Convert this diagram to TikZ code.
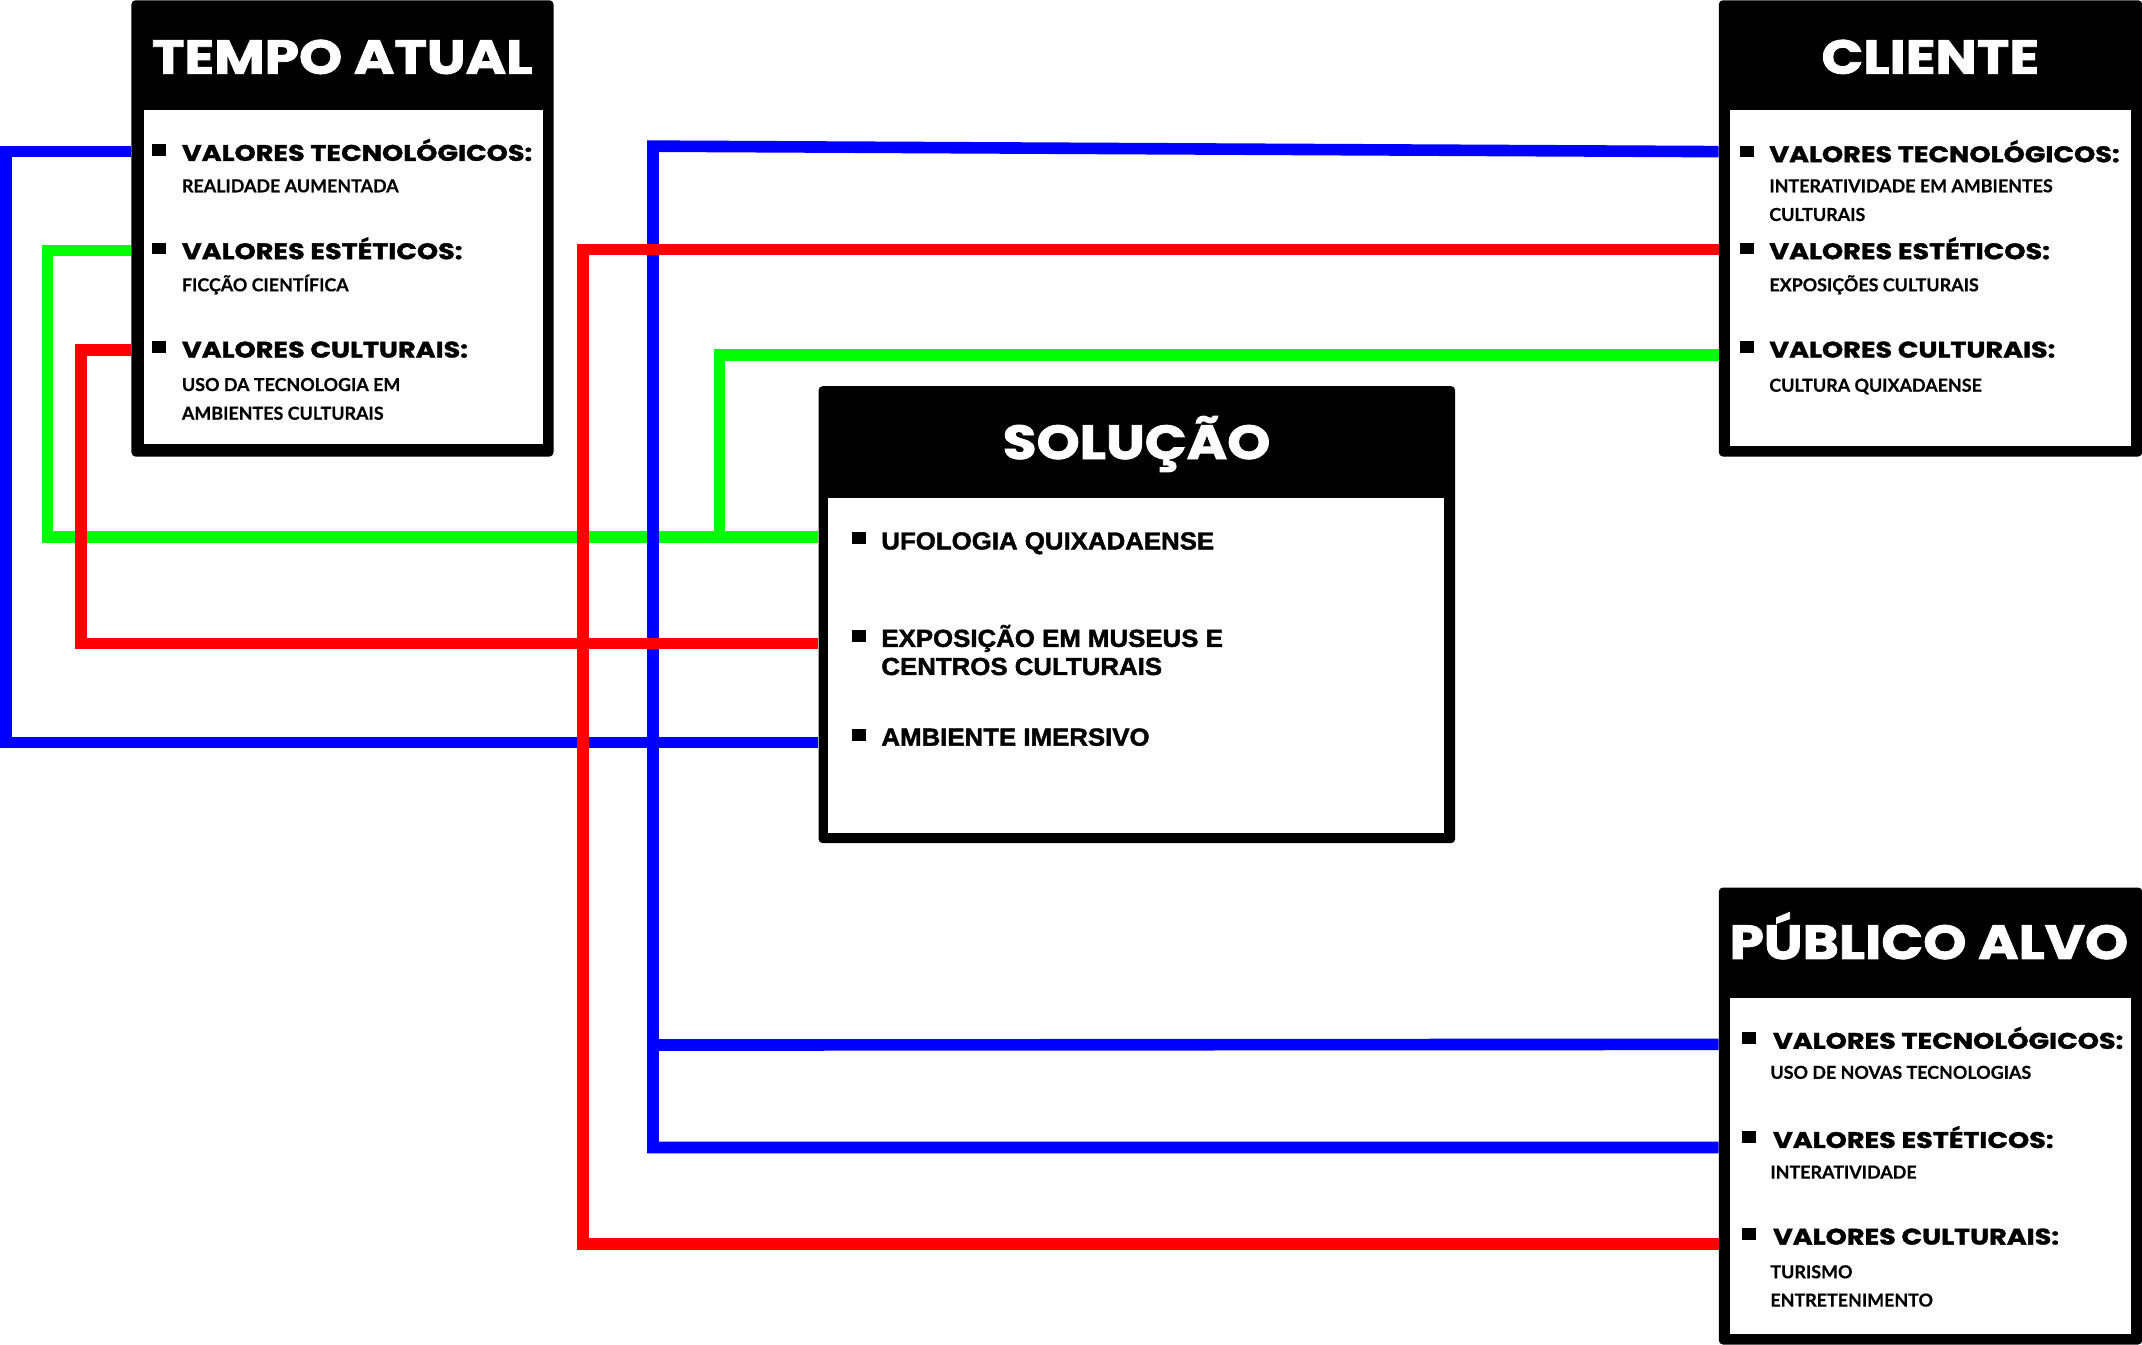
\documentclass[tikz,border=0pt]{standalone}
\usepackage{fontspec}
\setmainfont{Lato}
\newfontfamily\ttlfont{Poppins}[FakeStretch=1.15,FakeBold=1.8]
\newfontfamily\hdfont{Poppins}[FakeStretch=1.2,FakeBold=1.6]
\newfontfamily\subfont{Lato}[FakeBold=0.5]
\newfontfamily\solfont{Liberation Sans}[FakeStretch=1.05,FakeBold=1.8]
\usetikzlibrary{calc}
\definecolor{cblue}{RGB}{0,0,255}
\definecolor{cgreen}{RGB}{0,255,0}
\definecolor{cred}{RGB}{255,0,0}
\begin{document}
\begin{tikzpicture}[x=1pt,y=1pt,
  boxouter/.style={fill=black, rounded corners=3pt, inner sep=0pt, anchor=north west},
  boxinner/.style={fill=white, inner sep=0pt, anchor=north west},
  ttl/.style={text=white, font=\ttlfont\bfseries\fontsize{35}{35}\selectfont, inner sep=0pt, text height=24pt, text depth=0pt},
  hd/.style={anchor=west, font=\hdfont\bfseries\fontsize{16.5}{16.5}\selectfont, inner sep=0pt, text height=11.5pt, text depth=0pt},
  sub/.style={anchor=west, font=\subfont\bfseries\fontsize{13.1}{13.1}\selectfont, inner sep=0pt, text height=9.5pt, text depth=0pt},
  sol/.style={anchor=west, font=\solfont\bfseries\fontsize{18}{18}\selectfont, inner sep=0pt, text height=13pt, text depth=0pt},
  bul/.style={fill=black, inner sep=0pt, minimum width=10pt, minimum height=8.5pt},
  wire/.style={line width=8.5pt, line join=miter, line cap=butt}
]
\fill[white] (0,0) rectangle (1568,-984);
\useasboundingbox (0,0) rectangle (1568,-984);

% ---------- TEMPO ATUAL ----------
\node[boxouter, minimum width=309pt, minimum height=334pt] (tempo) at (96,0) {};
\node[boxinner, minimum width=292pt, minimum height=245pt] (tempoin) at (105,-80) {};
\node[ttl] (tempot) at (250.5,-42) {TEMPO ATUAL};
\node[bul] (tb1) at (116.5,-110) {};
\node[hd] (th1) at (133,-112) {VALORES TECNOLÓGICOS:};
\node[sub] (ts1) at (133,-136) {REALIDADE AUMENTADA};
\node[bul] (tb2) at (116.5,-182) {};
\node[hd] (th2) at (133,-184) {VALORES ESTÉTICOS:};
\node[sub] (ts2) at (133,-208.5) {FICÇÃO CIENTÍFICA};
\node[bul] (tb3) at (116.5,-254) {};
\node[hd] (th3) at (133,-256) {VALORES CULTURAIS:};
\node[sub] (ts3a) at (133,-281.5) {USO DA TECNOLOGIA EM};
\node[sub] (ts3b) at (133,-302.5) {AMBIENTES CULTURAIS};

% ---------- CLIENTE ----------
\node[boxouter, minimum width=310pt, minimum height=334pt] (cli) at (1258,0) {};
\node[boxinner, minimum width=293pt, minimum height=246pt] (cliin) at (1266.5,-80) {};
\node[ttl] (clit) at (1413,-42) {CLIENTE};
\node[bul] (cb1) at (1279,-111) {};
\node[hd] (ch1) at (1295,-113) {VALORES TECNOLÓGICOS:};
\node[sub] (cs1a) at (1295,-136) {INTERATIVIDADE EM AMBIENTES};
\node[sub] (cs1b) at (1295,-157) {CULTURAIS};
\node[bul] (cb2) at (1279,-182) {};
\node[hd] (ch2) at (1295,-184) {VALORES ESTÉTICOS:};
\node[sub] (cs2) at (1295,-208.5) {EXPOSIÇÕES CULTURAIS};
\node[bul] (cb3) at (1279,-254) {};
\node[hd] (ch3) at (1295,-256) {VALORES CULTURAIS:};
\node[sub] (cs3) at (1295,-282) {CULTURA QUIXADAENSE};

% ---------- SOLUÇÃO ----------
\node[boxouter, minimum width=466pt, minimum height=334.5pt] (sol) at (599,-282.5) {};
\node[boxinner, minimum width=451pt, minimum height=245.5pt] (solin) at (606,-364) {};
\node[ttl] (solt) at (832,-324) {SOLUÇÃO};
\node[bul] (sb1) at (629,-394) {};
\node[sol] (si1) at (645,-395.7) {UFOLOGIA QUIXADAENSE};
\node[bul] (sb2) at (629,-465.5) {};
\node[sol] (si2a) at (645,-467) {EXPOSIÇÃO EM MUSEUS E};
\node[sol] (si2b) at (645,-487.6) {CENTROS CULTURAIS};
\node[bul] (sb3) at (629,-538) {};
\node[sol] (si3) at (645,-539.3) {AMBIENTE IMERSIVO};

% ---------- PÚBLICO ALVO ----------
\node[boxouter, minimum width=310pt, minimum height=334.5pt] (pub) at (1258,-649.5) {};
\node[boxinner, minimum width=293pt, minimum height=246pt] (pubin) at (1266.5,-730) {};
\node[ttl] (pubt) at (1412,-690) {PÚBLICO ALVO};
\node[bul] (pb1) at (1280.5,-760) {};
\node[hd] (ph1) at (1297.7,-762) {VALORES TECNOLÓGICOS:};
\node[sub] (ps1) at (1295.8,-785) {USO DE NOVAS TECNOLOGIAS};
\node[bul] (pb2) at (1280.5,-832.5) {};
\node[hd] (ph2) at (1297.7,-834.6) {VALORES ESTÉTICOS:};
\node[sub] (ps2) at (1295.8,-858) {INTERATIVIDADE};
\node[bul] (pb3) at (1280.5,-903.5) {};
\node[hd] (ph3) at (1297.7,-905.3) {VALORES CULTURAIS:};
\node[sub] (ps3a) at (1295.8,-931) {TURISMO};
\node[sub] (ps3b) at (1295.8,-951.7) {ENTRETENIMENTO};

% ---------- connection points ----------
\coordinate (tB) at ($(tempo.north west)+(0,-111)$);
\coordinate (tG) at ($(tempo.north west)+(0,-183.4)$);
\coordinate (tR) at ($(tempo.north west)+(0,-256)$);
\coordinate (cB) at ($(cli.north west)+(0,-111)$);
\coordinate (cR) at ($(cli.north west)+(0,-182.7)$);
\coordinate (cG) at ($(cli.north west)+(0,-260)$);
\coordinate (sG) at ($(sol.north west)+(0,-110.5)$);
\coordinate (sR) at ($(sol.north west)+(0,-188.5)$);
\coordinate (sB) at ($(sol.north west)+(0,-261.1)$);
\coordinate (pB1) at ($(pub.north west)+(0,-115)$);
\coordinate (pB2) at ($(pub.north west)+(0,-190.5)$);
\coordinate (pR) at ($(pub.north west)+(0,-261)$);
\coordinate (bJ) at (478,-765);
\coordinate (gJ) at (526.7,-393);

% ---------- wires: green, then blue, then red ----------
\draw[wire, cgreen] (tG) -- (34.9,-183.4) -- (34.9,-393) -- (sG);
\draw[wire, cgreen] (cG) -- (526.7,-260) -- (gJ);

\draw[wire, cblue] (tB) -- (4.2,-111) -- (4.2,-543.6) -- (sB);
\draw[wire, cblue] (cB) -- (478,-107) -- (478,-840) -- (pB2);
\draw[wire, cblue] (bJ) -- (pB1);

\draw[wire, cred] (tR) -- (59.2,-256) -- (59.2,-471) -- (sR);
\draw[wire, cred] (cR) -- (426.6,-182.7) -- (426.6,-910.5) -- (pR);
\end{tikzpicture}
\end{document}
